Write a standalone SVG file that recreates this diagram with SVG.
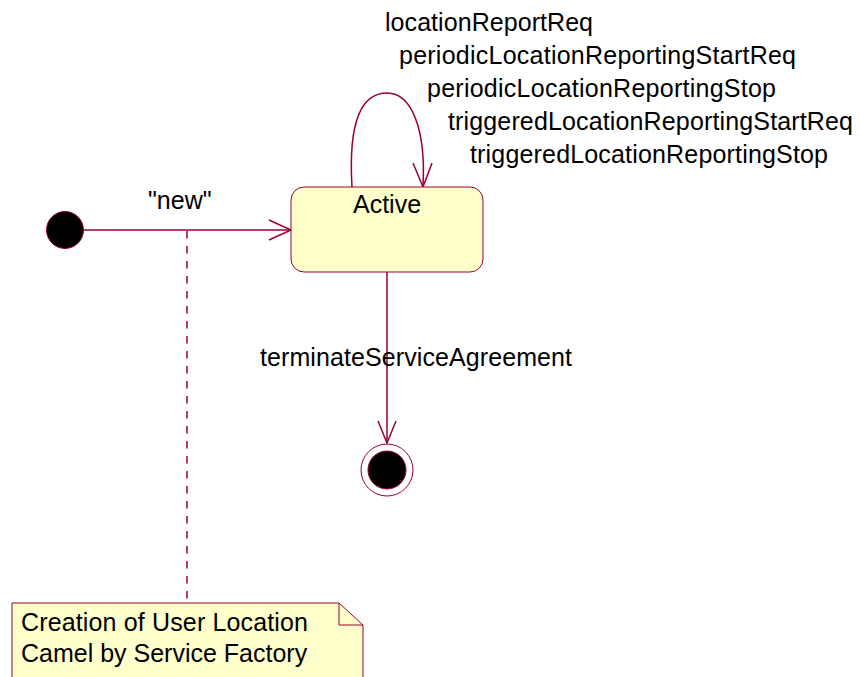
<svg xmlns="http://www.w3.org/2000/svg" width="860" height="677" viewBox="0 0 860 677">
<style>
  text { font-family: "Liberation Sans", Arial, sans-serif; font-size: 25px; fill: #000; }
  .edge { fill: none; stroke: #990033; stroke-width: 1.5; }
  .head { fill: none; stroke: #990033; stroke-width: 1.5; stroke-linejoin: miter; }
  .state { fill: #ffffcc; stroke: #990033; stroke-width: 1; }
</style>
<rect width="860" height="677" fill="#ffffff"/>
<g id="connectors">
  <path class="edge" d="M 83 230 L 291 230"/>
  <path class="head" d="M 269 220 L 291 230 L 269 240"/>
  <path class="edge" d="M 352 187 C 348 120 362 93 387 93 C 412 93 426 130 423 186"/>
  <path class="head" d="M 413 163 L 423 187 L 432 163"/>
  <path class="edge" d="M 387 272 L 387 443"/>
  <path class="head" d="M 378 421 L 387 443 L 396 421"/>
  <path class="edge" d="M 187 231 L 187 603" stroke-dasharray="7.5 7.5" stroke-width="1.2"/>
</g>
<g id="initial">
  <circle cx="65" cy="230" r="18.5" fill="#000" stroke="#990033" stroke-width="1"/>
</g>
<g id="label-new">
  <text x="148" y="209">"new"</text>
</g>
<g id="active">
  <rect class="state" x="291" y="187" width="192" height="85" rx="13" ry="13"/>
  <text x="353" y="213">Active</text>
</g>
<g id="self-loop-labels">
  <text x="385" y="31" textLength="208">locationReportReq</text>
  <text x="399" y="64" textLength="397">periodicLocationReportingStartReq</text>
  <text x="427" y="97" textLength="349">periodicLocationReportingStop</text>
  <text x="448" y="130" textLength="405">triggeredLocationReportingStartReq</text>
  <text x="470" y="163" textLength="358">triggeredLocationReportingStop</text>
</g>
<g id="label-terminate">
  <text x="260" y="366" textLength="312">terminateServiceAgreement</text>
</g>
<g id="final">
  <circle cx="387" cy="470" r="26" fill="#fff" stroke="#990033" stroke-width="1"/>
  <circle cx="387" cy="470" r="19" fill="#000" stroke="#990033" stroke-width="1"/>
</g>
<g id="note">
  <path class="state" d="M 12 603 L 339 603 L 363 625 L 363 690 L 12 690 Z"/>
  <path fill="none" stroke="#990033" stroke-width="1" d="M 339 603 L 339 625 L 363 625"/>
  <text x="21" y="631" textLength="287">Creation of User Location</text>
  <text x="21" y="662">Camel by Service Factory</text>
</g>
</svg>
